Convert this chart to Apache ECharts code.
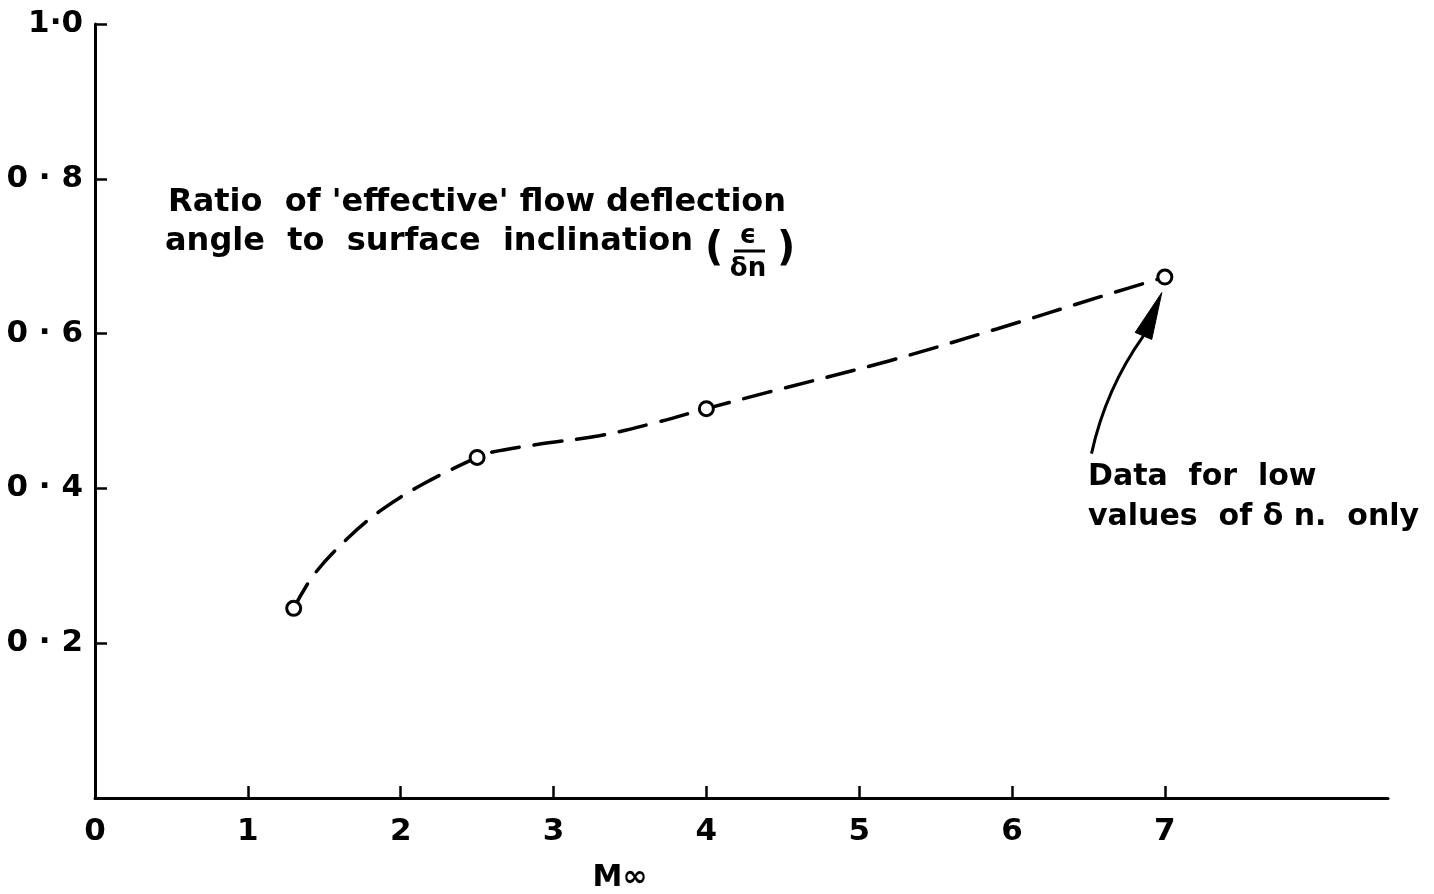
<!DOCTYPE html>
<html>
<head>
<meta charset="utf-8">
<script src="https://cdn.jsdelivr.net/npm/echarts@6/dist/echarts.min.js"></script>
<style>
html,body{margin:0;padding:0;background:#fff;overflow:hidden;}
#chart{width:1434px;height:894px;}
</style>
</head>
<body>
<div id="chart"></div>
<script>
// ---- data ----
const xTickValues = [0, 1, 2, 3, 4, 5, 6, 7];
const yTickValues = [0.2, 0.4, 0.6, 0.8, 1.0];
const xAxisName = 'M∞';
// measured points (open circles)
const machPoints = [1.3, 2.5, 4.0, 7.0];
const ratioPoints = [0.245, 0.44, 0.503, 0.673];
// faired dashed curve
const curveMach  = [1.3, 1.43, 1.65, 1.88, 2.15, 2.5, 2.6, 2.9, 3.3, 3.65, 4.0, 4.4, 5.2, 5.9, 6.6, 7.0];
const curveRatio = [0.245, 0.288, 0.335, 0.373, 0.406, 0.44, 0.447, 0.457, 0.468, 0.484, 0.503, 0.524, 0.565, 0.606, 0.649, 0.673];
// annotation arrow in data space: tail, control, head base, tip
const arrowTail = [6.52, 0.445];
const arrowCtrl = [6.614, 0.529];
const arrowBase = [6.86, 0.597];
const arrowTip  = [6.98, 0.653];
const titleLine1 = "Ratio  of 'effective' flow deflection";
const titleLine2 = 'angle  to  surface  inclination';
const noteLine1 = 'Data  for  low';
const noteLine2 = 'values  of δ n.  only';

const FONT = 'DejaVu Sans';
const chart = echarts.init(document.getElementById('chart'), null, {renderer: 'canvas', width: 1434, height: 894});

const curveData = curveMach.map((x, i) => [x, curveRatio[i]]);
const pointData = machPoints.map((x, i) => [x, ratioPoints[i]]);

const fmtY = v => (v > 0.99 ? '1·0' : v.toFixed(1).replace('.', ' · '));

const option = {
  animation: false,
  backgroundColor: '#fff',
  grid: {left: 95, top: 24, width: 1293, height: 774, containLabel: false},
  xAxis: {
    type: 'value', min: 0, max: 8.46, interval: 1,
    axisLine: {show: true, lineStyle: {color: '#000', width: 3}},
    axisTick: {show: true, inside: true, length: 12, customValues: xTickValues, lineStyle: {color: '#000', width: 2.5}},
    axisLabel: {show: true, margin: 18, customValues: xTickValues, fontFamily: FONT, fontWeight: 'bold', fontSize: 31, color: '#000',
      formatter: v => (v <= 7 ? String(v) : '')},
    splitLine: {show: false}
  },
  yAxis: {
    type: 'value', min: 0, max: 1.0, interval: 0.2,
    axisLine: {show: true, lineStyle: {color: '#000', width: 3}},
    axisTick: {show: true, inside: true, length: 12, customValues: yTickValues, lineStyle: {color: '#000', width: 2.5}},
    axisLabel: {show: true, margin: 12, customValues: yTickValues, fontFamily: FONT, fontWeight: 'bold', fontSize: 31, color: '#000',
      formatter: v => (v > 0.01 ? fmtY(v) : '')},
    splitLine: {show: false}
  },
  series: [
    {
      type: 'line', data: curveData, smooth: 0.35, showSymbol: false, symbol: 'none',
      lineStyle: {color: '#000', width: 3.5, type: [28, 15], cap: 'round'},
      z: 2, silent: true
    },
    {
      type: 'scatter', data: pointData, symbol: 'circle', symbolSize: 14,
      itemStyle: {color: '#fff', borderColor: '#000', borderWidth: 3, opacity: 1},
      z: 3, silent: true
    }
  ]
};
chart.setOption(option);

// annotations
const P = d => chart.convertToPixel({gridIndex: 0}, d);
const t = P(arrowTail), c = P(arrowCtrl), b = P(arrowBase), tip = P(arrowTip);
const dx = tip[0] - b[0], dy = tip[1] - b[1];
const len = Math.hypot(dx, dy);
const nx = -dy / len, ny = dx / len;
const hw = 9;

const txt = (x, y, s, size, align) => ({
  type: 'text', x: x, y: y,
  style: {text: s, fontFamily: FONT, fontWeight: 'bold', fontSize: size, fill: '#000',
    align: align || 'left', verticalAlign: 'middle'}
});

chart.setOption({
  graphic: [
    {type: 'bezierCurve', shape: {x1: t[0], y1: t[1], cpx1: c[0], cpy1: c[1], x2: b[0], y2: b[1]},
     style: {stroke: '#000', lineWidth: 3, fill: null}},
    {type: 'polygon', shape: {points: [[tip[0], tip[1]], [b[0] + nx * hw, b[1] + ny * hw], [b[0] - nx * hw, b[1] - ny * hw]]},
     style: {fill: '#000', stroke: '#000', lineWidth: 1}},
    txt(168, 203, titleLine1, 32),
    txt(165, 242, titleLine2, 32),
    txt(705, 250, '(', 40),
    txt(748, 236, 'ϵ', 26, 'center'),
    {type: 'line', shape: {x1: 734, y1: 251, x2: 765, y2: 251}, style: {stroke: '#000', lineWidth: 3}},
    txt(748, 269, 'δn', 26, 'center'),
    txt(777, 250, ')', 40),
    txt(1088, 477, noteLine1, 30),
    txt(1088, 517, noteLine2, 30),
    txt(620, 878, xAxisName, 30, 'center')
  ]
});
</script>
</body>
</html>
